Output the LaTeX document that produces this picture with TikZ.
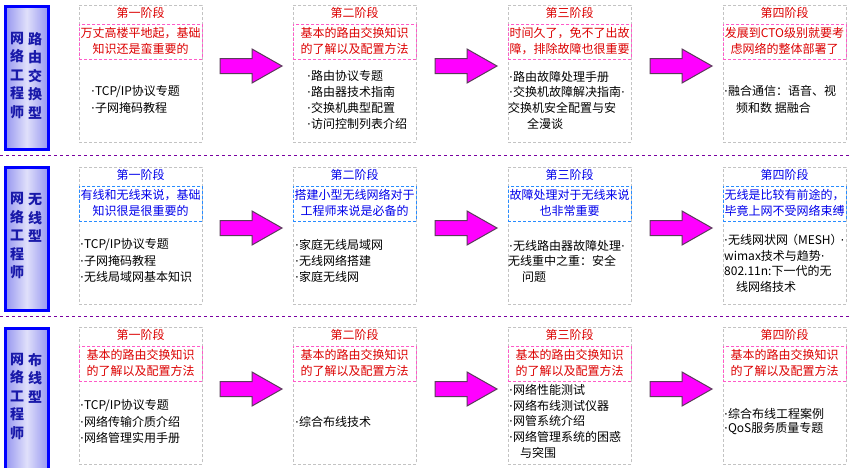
\documentclass[tikz,border=0pt]{standalone}
\usepackage{fontspec}
\setmainfont{Noto Sans CJK SC}
\newfontfamily\dejavu{DejaVu Sans}
\newcommand\mybul{{\dejavu ·}}
\definecolor{tred}{RGB}{220,0,0}
\definecolor{tblue}{RGB}{0,0,235}
\definecolor{dpink}{RGB}{255,90,200}
\definecolor{dblue}{RGB}{40,140,255}
\definecolor{dgray}{RGB}{195,195,195}
\definecolor{sepc}{RGB}{120,0,160}
\definecolor{mag}{RGB}{255,0,255}
\definecolor{lblue}{RGB}{0,0,255}
\definecolor{lbtext}{RGB}{25,25,170}
\definecolor{lbfill}{RGB}{150,150,240}
\definecolor{arredge}{RGB}{90,60,90}
\tikzset{
 outerbox/.style={draw=dgray, dash pattern=on 3pt off 2pt, line width=0.8pt, inner sep=0pt},
 subbox/.style={dash pattern=on 3pt off 2pt, line width=0.9pt, inner sep=0pt},
 ttl/.style={font=\fontsize{12}{14}\selectfont, inner sep=0pt},
 subtxt/.style={font=\fontsize{12}{14}\selectfont, inner sep=0pt},
 item/.style={font=\fontsize{12}{14}\selectfont, inner sep=0pt, anchor=west},
 arr/.style={fill=mag, draw=arredge, line width=1pt, line join=miter},
 lblbox/.style={draw=lblue, line width=2.5pt, left color=lbfill, right color=lbfill, middle color=lbfill!30, inner sep=0pt},
 lbltxt/.style={font=\fontsize{14}{18.5}\selectfont\bfseries, text=lbtext, align=center, inner sep=0pt},
 sepline/.style={draw=sepc, dash pattern=on 3pt off 3pt, line width=1pt}
}
% #1 name, #2 x, #3 top, #4 title, #5 sub line 1, #6 sub line 2
\newcommand\stagebox[6]{%
 \node[outerbox, anchor=north west, minimum width=123pt, minimum height=137pt] (#1) at (#2,#3) {};
 \node[subbox, draw=\subcol, anchor=north west, minimum width=123pt, minimum height=35pt] (#1s) at (#2,#3+19) {};
 \node[ttl, text=\txtcol] (#1t) at (#2+61.5,#3+8) {#4};
 \node[subtxt, text=\txtcol] (#1a) at (#2+61.5,#3+28) {#5};
 \node[subtxt, text=\txtcol] (#1b) at (#2+61.5,#3+44) {#6};
}
\newcommand\magarrow[2]{%
 \draw[arr] (#1,#2-7.5) -- (#1+32,#2-7.5) -- (#1+32,#2-17) -- (#1+62,#2) -- (#1+32,#2+17) -- (#1+32,#2+7.5) -- (#1,#2+7.5) -- cycle;}
\begin{document}
\begin{tikzpicture}[x=1pt,y=-1pt]
\useasboundingbox[fill=white] (0,0) rectangle (851,467);

% separators
\draw[sepline] (0,155) -- (851,155);
\draw[sepline] (0,316) -- (851,316);

% row labels
\node[lblbox, anchor=north west, minimum width=43pt, minimum height=143pt] (L1) at (4,5) {};
\node[lbltxt] (L1a) at (17,75.5) {网\\络\\工\\程\\师};
\node[lbltxt] (L1b) at (35,75.5) {路\\由\\交\\换\\型};
\node[lblbox, anchor=north west, minimum width=43pt, minimum height=143pt] (L2) at (4,166) {};
\node[lbltxt] (L2a) at (17,236) {网\\络\\工\\程\\师};
\node[lbltxt] (L2b) at (35,218) {无\\线\\型};
\node[lblbox, anchor=north west, minimum width=43pt, minimum height=150pt] (L3) at (4,327) {};
\node[lbltxt] (L3a) at (17,396.5) {网\\络\\工\\程\\师};
\node[lbltxt] (L3b) at (35,378) {布\\线\\型};

% ---------- row 1 ----------
\def\subcol{dpink}\def\txtcol{tred}
\stagebox{a1}{79}{5}{第一阶段}{万丈高楼平地起，基础}{知识还是蛮重要的}
\stagebox{a2}{293}{5}{第二阶段}{基本的路由交换知识}{的了解以及配置方法}
\stagebox{a3}{508}{5}{第三阶段}{时间久了，免不了出故}{障，排除故障也很重要}
\stagebox{a4}{723}{5}{第四阶段}{发展到CTO级别就要考}{虑网络的整体部署了}
\node[item] (a1i1) at (91,92) {\mybul TCP/IP协议专题};
\node[item] (a1i2) at (91,108) {\mybul 子网掩码教程};
\node[item] (a2i1) at (307,76) {\mybul 路由协议专题};
\node[item] (a2i2) at (307,92) {\mybul 路由器技术指南};
\node[item] (a2i3) at (307,107.5) {\mybul 交换机典型配置};
\node[item] (a2i4) at (307,123.5) {\mybul 访问控制列表介绍};
\node[item] (a3i1) at (509,77) {\mybul 路由故障处理手册};
\node[item] (a3i2) at (509,92) {\mybul 交换机故障解决指南\mybul};
\node[item] (a3i3) at (508,108) {交换机安全配置与安};
\node[item] (a3i4) at (527,124) {全漫谈};
\node[item] (a4i1) at (724,91) {\mybul 融合通信：语音、视};
\node[item] (a4i2) at (736,108) {频和数 据融合};
\magarrow{220}{66}
\magarrow{435}{66}
\magarrow{650}{66}

% ---------- row 2 ----------
\def\subcol{dblue}\def\txtcol{tblue}
\stagebox{b1}{79}{167}{第一阶段}{有线和无线来说，基础}{知识很是很重要的}
\stagebox{b2}{293}{167}{第二阶段}{搭建小型无线网络对于}{工程师来说是必备的}
\stagebox{b3}{508}{167}{第三阶段}{故障处理对于无线来说}{也非常重要}
\stagebox{b4}{723}{167}{第四阶段}{无线是比较有前途的，}{毕竟上网不受网络束缚}
\node[item] (b1i1) at (80,245) {\mybul TCP/IP协议专题};
\node[item] (b1i2) at (80,261) {\mybul 子网掩码教程};
\node[item] (b1i3) at (80,277) {\mybul 无线局域网基本知识};
\node[item] (b2i1) at (295,245) {\mybul 家庭无线局域网};
\node[item] (b2i2) at (295,261) {\mybul 无线网络搭建};
\node[item] (b2i3) at (295,277) {\mybul 家庭无线网};
\node[item] (b3i1) at (509,246) {\mybul 无线路由器故障处理\mybul};
\node[item] (b3i2) at (508,261) {无线重中之重：安全};
\node[item] (b3i3) at (522,277) {问题};
\node[item] (b4i1) at (724,240) {\mybul 无线网状网{\kern-2pt}（MESH）{\kern-2pt}\mybul};
\node[item] (b4i2) at (724,256) {wimax技术与趋势\mybul};
\node[item] (b4i3) at (724,271) {802.11n:下一代的无};
\node[item] (b4i4) at (736,287) {线网络技术};
\magarrow{220}{228}
\magarrow{435}{228}
\magarrow{650}{228}

% ---------- row 3 ----------
\def\subcol{dpink}\def\txtcol{tred}
\stagebox{c1}{79}{327}{第一阶段}{基本的路由交换知识}{的了解以及配置方法}
\stagebox{c2}{293}{327}{第二阶段}{基本的路由交换知识}{的了解以及配置方法}
\stagebox{c3}{508}{327}{第三阶段}{基本的路由交换知识}{的了解以及配置方法}
\stagebox{c4}{723}{327}{第四阶段}{基本的路由交换知识}{的了解以及配置方法}
\node[item] (c1i1) at (80,406) {\mybul TCP/IP协议专题};
\node[item] (c1i2) at (80,422) {\mybul 网络传输介质介绍};
\node[item] (c1i3) at (80,438) {\mybul 网络管理实用手册};
\node[item] (c2i1) at (295,422) {\mybul 综合布线技术};
\node[item] (c3i1) at (509,390) {\mybul 网络性能测试};
\node[item] (c3i2) at (509,406) {\mybul 网络布线测试仪器};
\node[item] (c3i3) at (509,421) {\mybul 网管系统介绍};
\node[item] (c3i4) at (509,437) {\mybul 网络管理系统的困惑};
\node[item] (c3i5) at (520,453) {与突围};
\node[item] (c4i1) at (724,414) {\mybul 综合布线工程案例};
\node[item] (c4i2) at (724,429) {\mybul QoS服务质量专题};
\magarrow{220}{389}
\magarrow{435}{389}
\magarrow{650}{389}
\end{tikzpicture}
\end{document}
